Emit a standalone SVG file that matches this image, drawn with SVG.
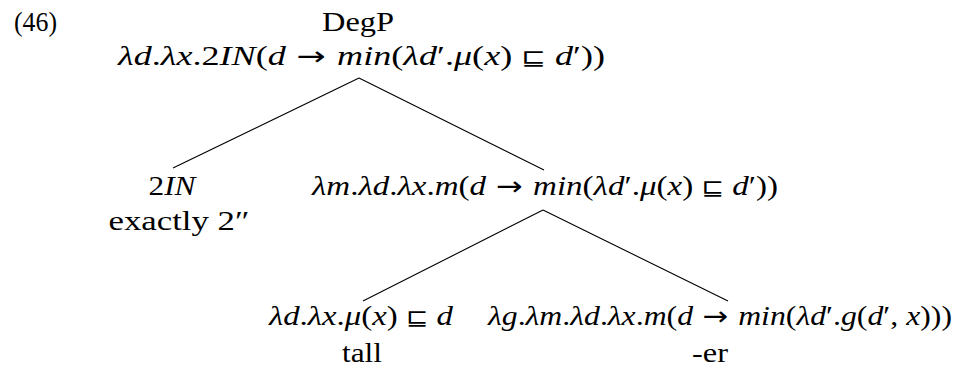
<svg xmlns="http://www.w3.org/2000/svg" width="969" height="372" viewBox="0 0 969 372">
<style>
text{font-family:"Liberation Serif","DejaVu Serif",serif;font-size:27px;fill:#000}
.i{font-style:italic}
.m{text-anchor:middle}
.s{font-family:"DejaVu Sans",sans-serif;font-size:22px}
.a{font-family:"DejaVu Sans",sans-serif;font-size:26px}
line{stroke:#000;stroke-width:1.1}
</style>
<rect width="969" height="372" fill="#fff"/>
<g id="connectors">
<line x1="359" y1="78" x2="173" y2="168"/>
<line x1="359" y1="78" x2="544" y2="170"/>
<line x1="543" y1="210" x2="363" y2="301"/>
<line x1="543" y1="210" x2="728" y2="301"/>
</g>
<g id="label46"><text x="14" y="31" textLength="43" lengthAdjust="spacingAndGlyphs">(46)</text></g>
<g id="degp">
<text class="m" x="358" y="31" textLength="72" lengthAdjust="spacingAndGlyphs">DegP</text>
<text x="118" y="65" textLength="487" lengthAdjust="spacingAndGlyphs"><tspan class="i">λd</tspan>.<tspan class="i">λx</tspan>.2<tspan class="i">IN</tspan>(<tspan class="i">d</tspan><tspan class="a"> → </tspan><tspan class="i">min</tspan>(<tspan class="i">λd</tspan>′.<tspan class="i">μ</tspan>(<tspan class="i">x</tspan>) <tspan class="s">⊑</tspan> <tspan class="i">d</tspan>′))</text>
</g>
<g id="twoIN">
<text class="m" x="172" y="195" textLength="47" lengthAdjust="spacingAndGlyphs">2<tspan class="i">IN</tspan></text>
<text class="m" x="179" y="230" textLength="141" lengthAdjust="spacingAndGlyphs">exactly 2″</text>
</g>
<g id="mid">
<text x="312" y="195" textLength="466" lengthAdjust="spacingAndGlyphs"><tspan class="i">λm</tspan>.<tspan class="i">λd</tspan>.<tspan class="i">λx</tspan>.<tspan class="i">m</tspan>(<tspan class="i">d</tspan><tspan class="a"> → </tspan><tspan class="i">min</tspan>(<tspan class="i">λd</tspan>′.<tspan class="i">μ</tspan>(<tspan class="i">x</tspan>) <tspan class="s">⊑</tspan> <tspan class="i">d</tspan>′))</text>
</g>
<g id="tall">
<text x="269" y="325" textLength="184" lengthAdjust="spacingAndGlyphs"><tspan class="i">λd</tspan>.<tspan class="i">λx</tspan>.<tspan class="i">μ</tspan>(<tspan class="i">x</tspan>) <tspan class="s">⊑</tspan> <tspan class="i">d</tspan></text>
<text class="m" x="362" y="362" textLength="40" lengthAdjust="spacingAndGlyphs">tall</text>
</g>
<g id="er">
<text x="488" y="325" textLength="464" lengthAdjust="spacingAndGlyphs"><tspan class="i">λg</tspan>.<tspan class="i">λm</tspan>.<tspan class="i">λd</tspan>.<tspan class="i">λx</tspan>.<tspan class="i">m</tspan>(<tspan class="i">d</tspan><tspan class="a"> → </tspan><tspan class="i">min</tspan>(<tspan class="i">λd</tspan>′.<tspan class="i">g</tspan>(<tspan class="i">d</tspan>′, <tspan class="i">x</tspan>)))</text>
<text class="m" x="710" y="362" textLength="36" lengthAdjust="spacingAndGlyphs">-er</text>
</g>
</svg>
